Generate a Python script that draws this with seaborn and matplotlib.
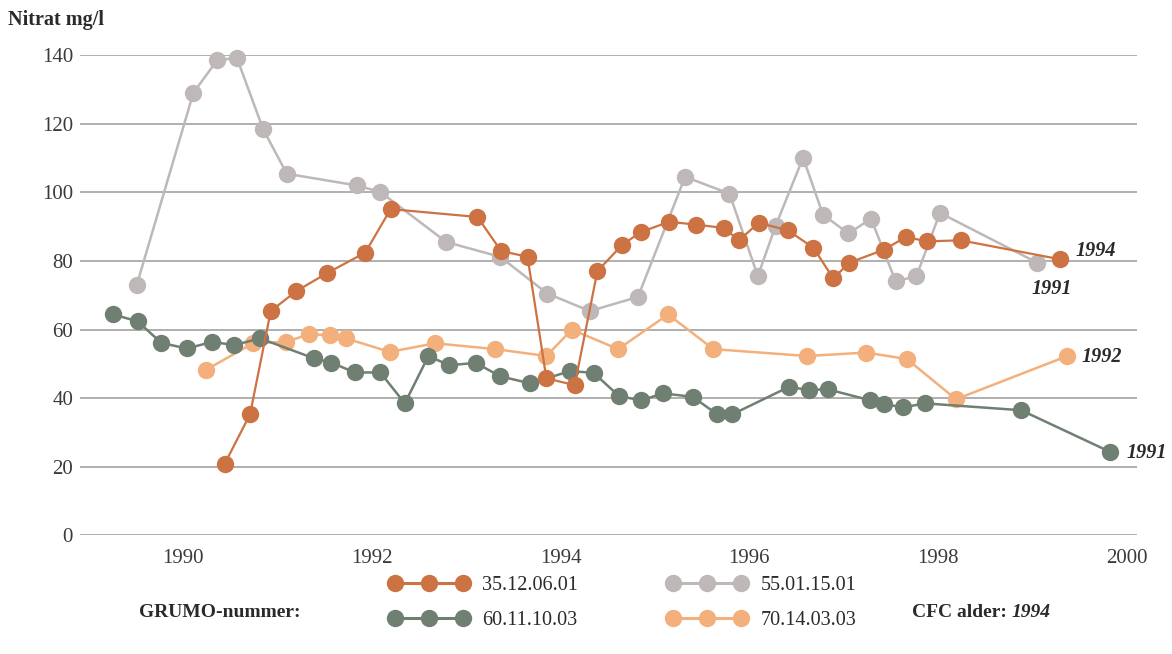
import matplotlib
matplotlib.use("Agg")
import matplotlib.pyplot as plt
import seaborn as sns
import pandas as pd
from matplotlib.lines import Line2D

# ---- data ----
grey_years = [1989.51, 1990.11, 1990.36, 1990.57, 1990.85, 1991.10, 1991.84, 1992.09, 1992.79,
              1993.36, 1993.86, 1994.31, 1994.82, 1995.32, 1995.79, 1996.09, 1996.28, 1996.57,
              1996.78, 1997.05, 1997.29, 1997.55, 1997.77, 1998.02, 1999.05]
grey_vals = [73, 129, 138.4, 139.2, 118.3, 105.4, 102, 100.1, 85.5,
             81.2, 70.5, 65.4, 69.5, 104.5, 99.6, 75.6, 90.3, 110.1,
             93.5, 88, 92.3, 74.1, 75.5, 94, 79.5]

orange_years = [1990.44, 1990.71, 1990.93, 1991.20, 1991.53, 1991.93, 1992.20, 1993.12, 1993.37,
                1993.65, 1993.85, 1994.15, 1994.39, 1994.65, 1994.85, 1995.15, 1995.43, 1995.73,
                1995.89, 1996.10, 1996.41, 1996.68, 1996.89, 1997.06, 1997.43, 1997.66, 1997.88,
                1998.24, 1999.29]
orange_vals = [20.8, 35.3, 65.4, 71.2, 76.5, 82.4, 95.1, 92.8, 82.9,
               81.2, 45.8, 43.8, 77, 84.6, 88.4, 91.4, 90.6, 89.6,
               86, 91.1, 88.9, 83.8, 74.9, 79.5, 83.3, 87, 85.7,
               86, 80.5]

green_years = [1989.26, 1989.52, 1989.77, 1990.04, 1990.31, 1990.54, 1990.82, 1991.39, 1991.57,
               1991.82, 1992.09, 1992.35, 1992.60, 1992.82, 1993.10, 1993.36, 1993.68, 1994.10,
               1994.35, 1994.62, 1994.85, 1995.09, 1995.40, 1995.66, 1995.82, 1996.42, 1996.63,
               1996.83, 1997.28, 1997.43, 1997.63, 1997.86, 1998.88, 1999.82]
green_vals = [64.4, 62.4, 56.1, 54.5, 56.4, 55.5, 57.4, 51.6, 50.4,
              47.5, 47.5, 38.5, 52.3, 49.6, 50.3, 46.4, 44.3, 47.9,
              47.4, 40.6, 39.4, 41.4, 40.4, 35.3, 35.3, 43.3, 42.4,
              42.6, 39.4, 38.3, 37.3, 38.5, 36.5, 24.4]

light_years = [1990.24, 1990.74, 1991.09, 1991.33, 1991.56, 1991.73, 1992.19, 1992.67, 1993.31,
               1993.85, 1994.12, 1994.61, 1995.14, 1995.62, 1996.61, 1997.24, 1997.67, 1998.19,
               1999.37]
light_vals = [48.2, 56, 56.4, 58.6, 58.4, 57.4, 53.5, 56, 54.3,
              52.3, 60, 54.3, 64.4, 54.3, 52.3, 53.3, 51.4, 39.7,
              52.3]

series_names = ["35.12.06.01", "60.11.10.03", "55.01.15.01", "70.14.03.03"]
end_labels = ["1994", "1991", "1991", "1992"]
x_ticks = [1990, 1992, 1994, 1996, 1998, 2000]
y_ticks = [0, 20, 40, 60, 80, 100, 120, 140]

# ---- style ----
sns.set_style("white")
plt.rcParams['font.family'] = ['Liberation Serif', 'DejaVu Serif']

c_orange = "#CC7243"
c_grey = "#BFB8B8"
c_green = "#6F7F72"
c_light = "#F3B07D"
txt = "#2a2a2a"

fig = plt.figure(figsize=(11.72, 6.54), dpi=100)
ax = fig.add_axes([0.0683, 0.1812, 0.9017, 0.7347])

def draw(years, vals, color, z, lw=1.8):
    df = pd.DataFrame({"year": years, "val": vals})
    sns.lineplot(data=df, x="year", y="val", ax=ax, color=color, marker="o",
                 markersize=12.5, markeredgewidth=0, linewidth=lw, zorder=z,
                 estimator=None, sort=False, clip_on=False)

draw(grey_years, grey_vals, c_grey, 3)
draw(light_years, light_vals, c_light, 4)
draw(green_years, green_vals, c_green, 5)
draw(orange_years, orange_vals, c_orange, 6, lw=1.6)

ax.set_xlim(1988.909, 2000.106)
ax.set_ylim(0, 140)
ax.set_xticks(x_ticks)
ax.set_yticks(y_ticks)
ax.set_xlabel("")
ax.set_ylabel("")
ax.yaxis.grid(True, color="#9a9a9a", linewidth=1.1)
ax.set_axisbelow(True)
for s in ax.spines.values():
    s.set_visible(False)
ax.tick_params(axis="both", length=0, labelsize=15, colors="#3a3a3a")
ax.tick_params(axis="x", pad=10)
ax.tick_params(axis="y", pad=5)

# end labels
ann_style = dict(fontsize=14.5, fontweight="bold", fontstyle="italic", color=txt)
ax.annotate(end_labels[0], xy=(orange_years[-1], orange_vals[-1]), xytext=(11, 6),
            textcoords="offset points", va="center", ha="left", **ann_style)
ax.annotate(end_labels[2], xy=(grey_years[-1], grey_vals[-1]), xytext=(-4, -19),
            textcoords="offset points", va="center", ha="left", **ann_style)
ax.annotate(end_labels[3], xy=(light_years[-1], light_vals[-1]), xytext=(10, -1),
            textcoords="offset points", va="center", ha="left", **ann_style)
ax.annotate(end_labels[1], xy=(green_years[-1], green_vals[-1]), xytext=(12, -1),
            textcoords="offset points", va="center", ha="left", **ann_style)

# y label
fig.text(0.007, 0.985, "Nitrat mg/l", fontsize=14.5, fontweight="bold", color=txt,
         va="top", ha="left")

# legend
handles = [
    Line2D([], [], color=c, marker="o", markersize=12.5, markeredgewidth=0, linewidth=2.2)
    for c in (c_orange, c_green, c_grey, c_light)
]
leg = fig.legend(handles=handles, labels=series_names, ncol=2, numpoints=3,
                 loc="center", bbox_to_anchor=(0.531, 0.078), frameon=False,
                 fontsize=14.5, handlelength=4.0, handletextpad=0.65, columnspacing=4.4,
                 labelspacing=0.75, labelcolor=txt)

fig.text(0.1875, 0.064, "GRUMO-nummer:", fontsize=14, fontweight="bold", color=txt,
         ha="center", va="center")
t1 = fig.text(0.778, 0.064, "CFC alder: ", fontsize=14, fontweight="bold", color=txt,
              ha="left", va="center")
ax.annotate("1994", xy=(1, 0), xycoords=t1, va="bottom", ha="left", fontsize=14,
            fontweight="bold", fontstyle="italic", color=txt, annotation_clip=False)

fig.savefig("out.png", dpi=100)
